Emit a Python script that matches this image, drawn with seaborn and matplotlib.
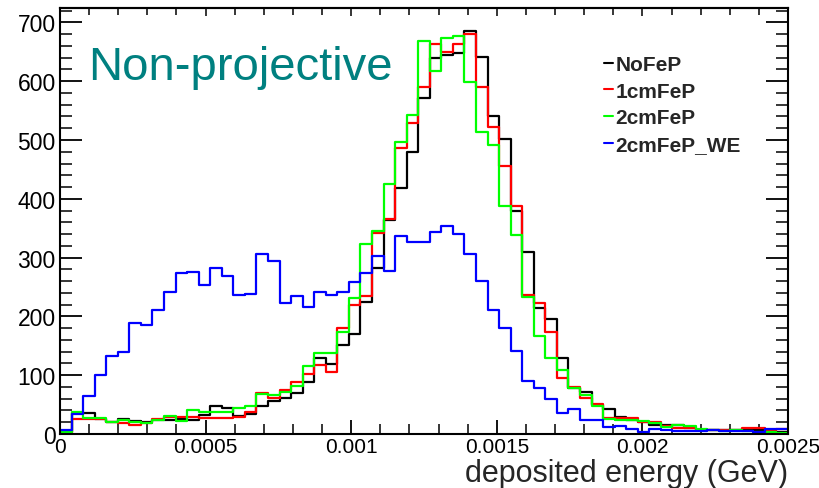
import numpy as np
import pandas as pd
import matplotlib
matplotlib.use("Agg")
import matplotlib.pyplot as plt
from matplotlib.ticker import MultipleLocator, FuncFormatter
from matplotlib.lines import Line2D
import seaborn as sns

# ---- data (bin contents) ----
x_min, x_max, n_bins = 0.0, 0.0025, 63
series_names = ["NoFeP", "1cmFeP", "2cmFeP", "2cmFeP_WE"]
series_colors = ["#000000", "#ff0000", "#00ff00", "#0000ff"]

nofep = [3, 35, 35, 25, 21, 25, 22, 20, 23, 24, 25, 24, 32, 47, 44, 31, 34, 48, 56, 61,
         69, 88, 129, 119, 151, 170, 225, 283, 364, 418, 480, 571, 640, 645, 648, 685,
         641, 540, 502, 380, 309, 214, 195, 129, 78, 71, 49, 42, 29, 23, 20, 16, 15, 16,
         10, 7, 7, 6, 6, 7, 6, 4, 4]
fe1cm = [2, 25, 25, 25, 20, 19, 15, 18, 25, 29, 29, 29, 28, 28, 28, 29, 37, 69, 62, 74,
         88, 102, 117, 105, 181, 219, 235, 342, 366, 486, 529, 590, 663, 650, 663, 681,
         590, 522, 456, 387, 236, 223, 174, 95, 80, 62, 51, 27, 28, 28, 21, 21, 14, 11,
         10, 7, 6, 6, 6, 10, 11, 5, 8]
fe2cm = [3, 37, 27, 27, 20, 23, 20, 18, 24, 31, 22, 40, 37, 37, 38, 44, 48, 68, 66, 71,
         81, 116, 137, 137, 174, 232, 323, 346, 426, 497, 543, 668, 617, 673, 677, 598,
         513, 491, 388, 338, 233, 167, 129, 108, 78, 66, 48, 26, 24, 23, 22, 18, 12, 15,
         13, 8, 6, 5, 6, 5, 4, 3, 2]
fe2cm_we = [7, 34, 65, 100, 132, 140, 189, 186, 211, 242, 274, 276, 254, 282, 268, 236,
            238, 306, 295, 223, 235, 216, 242, 236, 242, 258, 274, 303, 277, 336, 326, 326,
            343, 354, 340, 306, 261, 211, 181, 142, 90, 79, 59, 35, 42, 23, 23, 12, 14, 9,
            4, 8, 6, 5, 5, 5, 6, 5, 5, 5, 4, 8, 8]

x_tick_labels = ["0", "0.0005", "0.001", "0.0015", "0.002", "0.0025"]
x_label = "deposited energy (GeV)"
title_text = "Non-projective"

edges = np.linspace(x_min, x_max, n_bins + 1)
centers = 0.5 * (edges[:-1] + edges[1:])
frames = []
for name, vals in zip(series_names, [nofep, fe1cm, fe2cm, fe2cm_we]):
    frames.append(pd.DataFrame({"energy": centers, "count": vals, "sample": name}))
df = pd.concat(frames, ignore_index=True)

# ---- style ----
sns.set_style("ticks")
plt.rcParams["font.family"] = ["Liberation Sans", "DejaVu Sans"]

W, H = 820, 489
fig = plt.figure(figsize=(W / 100, H / 100), dpi=100)
ax_l, ax_r, ax_t, ax_b = 60, 788, 9.3, 435
ax = fig.add_axes([ax_l / W, 1 - ax_b / H, (ax_r - ax_l) / W, (ax_b - ax_t) / H])

for name, color in zip(series_names, series_colors):
    sub = df[df["sample"] == name]
    sns.histplot(data=sub, x="energy", weights="count", bins=n_bins,
                 binrange=(x_min, x_max), element="step",
                 fill=False, color=color, linewidth=1.6, ax=ax)

ax.set_xlim(x_min, x_max)
ax.set_ylim(0, 724)
ax.set_ylabel("")

ax.xaxis.set_minor_locator(MultipleLocator(0.0001))
ax.set_xticks(np.linspace(x_min, x_max, len(x_tick_labels)))
ax.set_xticklabels(x_tick_labels)
ax.yaxis.set_major_locator(MultipleLocator(100))
ax.yaxis.set_minor_locator(MultipleLocator(20))
ax.yaxis.set_major_formatter(FuncFormatter(lambda v, p: f"{int(round(v))}"))

for s in ax.spines.values():
    s.set_linewidth(1.5)
    s.set_color("black")

ax.tick_params(axis="y", which="major", direction="in", left=True, right=True,
               length=16, width=1.3, labelsize=16.5, pad=3, colors="black")
ax.tick_params(axis="y", which="minor", direction="in", left=True, right=True,
               length=8.5, width=1.3)
ax.tick_params(axis="x", which="major", direction="in", bottom=True, top=False,
               length=10, width=1.3, labelsize=15, pad=2.5, colors="black")
ax.tick_params(axis="x", which="minor", direction="in", bottom=True, top=False,
               length=7, width=1.3)

sec = ax.secondary_xaxis("top")
sec.xaxis.set_major_locator(MultipleLocator(0.0005))
sec.xaxis.set_minor_locator(MultipleLocator(0.0001))
sec.tick_params(axis="x", which="major", direction="in", length=6, width=1.3, labeltop=False)
sec.tick_params(axis="x", which="minor", direction="in", length=5, width=1.3)
sec.spines["top"].set_linewidth(1.5)

ax.set_xlabel(x_label, fontsize=22, loc="right")
ax.xaxis.set_label_coords(1.0, -0.056)

fig.text(88 / W, 1 - 80 / H, title_text, fontsize=34, color="#008080",
         va="baseline", ha="left")

handles = [Line2D([0], [0], color=c, lw=1.5) for c in series_colors]
leg = ax.legend(handles, series_names, loc="upper left",
                bbox_to_anchor=(604 / W, 1 - 56 / H), bbox_transform=fig.transFigure,
                frameon=False, handlelength=0.45, handletextpad=0.1, borderpad=0,
                borderaxespad=0, labelspacing=0.37,
                prop={"weight": "bold", "size": 15})

fig.savefig("out.png", dpi=100, facecolor="white")
